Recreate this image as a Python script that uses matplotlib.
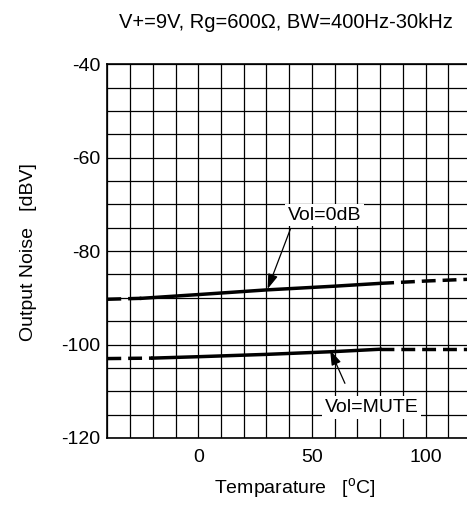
import matplotlib.pyplot as plt

plt.rcParams['font.family'] = ['Liberation Sans', 'DejaVu Sans']
plt.rcParams['mathtext.fontset'] = 'custom'
plt.rcParams['mathtext.rm'] = 'Liberation Sans'
plt.rcParams['axes.unicode_minus'] = False

# Vol=0dB curve (solid measured range + dashed extrapolation)
t_0db = [-25, 0, 30, 60, 80]
n_0db = [-90.1, -89.3, -88.3, -87.5, -86.9]
t_0db_lo = [-40, -25]
n_0db_lo = [-90.3, -90.1]
t_0db_hi = [80, 100, 120]
n_0db_hi = [-86.9, -86.4, -86.0]

# Vol=MUTE curve
t_mute = [-20, 0, 30, 60, 80]
n_mute = [-102.9, -102.6, -102.1, -101.5, -101.0]
t_mute_lo = [-40, -20]
n_mute_lo = [-103.0, -102.9]
t_mute_hi = [80, 120]
n_mute_hi = [-101.0, -101.0]

fig = plt.figure(figsize=(4.67, 5.05), dpi=100)
ax = fig.add_axes([0.2298, 0.1327, 0.779, 0.740])

ax.plot(t_0db, n_0db, 'k-', lw=2.5)
ax.plot(t_0db_lo, n_0db_lo, 'k--', lw=2.5, dashes=(4, 2))
ax.plot(t_0db_hi, n_0db_hi, 'k--', lw=2.5, dashes=(4, 2))
ax.plot(t_mute, n_mute, 'k-', lw=2.5)
ax.plot(t_mute_lo, n_mute_lo, 'k--', lw=2.5, dashes=(4, 2))
ax.plot(t_mute_hi, n_mute_hi, 'k--', lw=2.5, dashes=(4, 2))

ax.set_xlim(-40, 120)
ax.set_ylim(-120, -40)
ax.set_xticks(range(-40, 121, 10), minor=True)
ax.set_yticks(range(-120, -39, 5), minor=True)
ax.set_xticks([0, 50, 100])
ax.set_yticks([-120, -100, -80, -60, -40])
ax.grid(True, which='both', color='black', lw=0.9)
ax.set_axisbelow(True)
ax.tick_params(which='both', length=0, labelsize=14)
ax.tick_params(axis='x', pad=8)
ax.tick_params(axis='y', pad=5)
for s in ax.spines.values():
    s.set_linewidth(1.2)

arrow = dict(arrowstyle='-|>,head_length=0.9,head_width=0.3', color='black', lw=0.9, shrinkA=0, shrinkB=0)
box = dict(facecolor='white', edgecolor='none', pad=2)
ax.annotate('', xy=(30.5, -88.1), xytext=(40.5, -75.3), arrowprops=arrow)
ax.text(55.6, -72.3, 'Vol=0dB', fontsize=14, ha='center', va='center', bbox=box)
ax.annotate('', xy=(58.0, -101.2), xytext=(64.5, -108.3), arrowprops=arrow)
ax.text(76.1, -113.5, 'Vol=MUTE', fontsize=14, ha='center', va='center', bbox=box)

fig.text(0.612, 0.955, 'V+=9V, Rg=600\u03a9, BW=400Hz-30kHz', fontsize=14.5, ha='center', va='center')
fig.text(0.632, 0.032, 'Temparature   [$^\\mathregular{o}$C]', fontsize=14, ha='center', va='center')
fig.text(0.06, 0.5, 'Output Noise   [dBV]', fontsize=14, ha='center', va='center', rotation=90)

fig.savefig('out.png', dpi=100)
